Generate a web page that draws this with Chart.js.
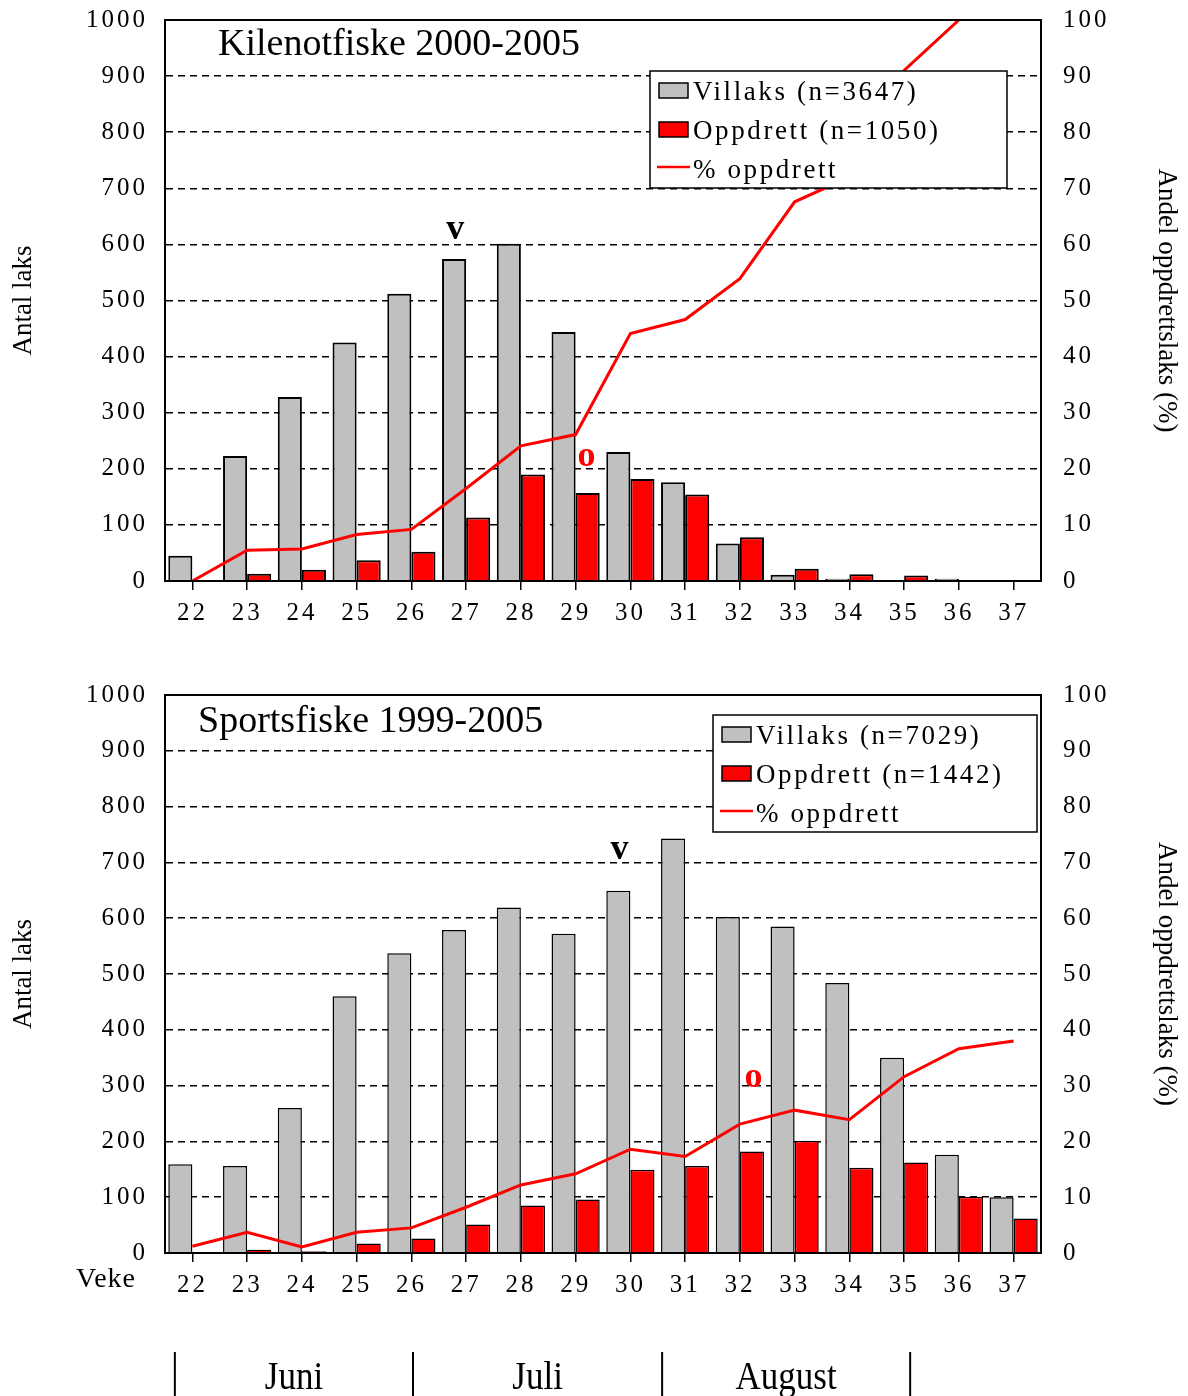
<!DOCTYPE html>
<html>
<head>
<meta charset="utf-8">
<script src="https://cdn.jsdelivr.net/npm/chart.js@4.4.1/dist/chart.umd.min.js"></script>
<style>
  body { margin: 0; background: #fff; width: 1188px; height: 1396px; position: relative; overflow: hidden; }
  .box { position: absolute; left: 0; width: 1188px; }
</style>
</head>
<body>
<div class="box" style="top:0;height:650px"><canvas id="kilenot"></canvas></div>
<div class="box" style="top:650px;height:746px"><canvas id="sport"></canvas></div>
<script>
// uke-nummer langs x-aksen
const weeks = ['22', '23', '24', '25', '26', '27', '28', '29', '30', '31', '32', '33', '34', '35', '36', '37'];

// Kilenotfiske 2000-2005
const kileVillaks = [45, 223, 328, 425, 512, 574, 601, 444, 230, 176, 67, 11, 4, 1, 4, 0];
const kileOppdrett = [0, 13, 20, 37, 52, 113, 190, 157, 182, 154, 78, 22, 12, 10, 0, 0];
const kilePct = [0, 5.5, 5.7, 8.3, 9.2, 16.5, 24.1, 26.1, 44.1, 46.6, 53.9, 67.6, 72, 91, 100, null];

// Sportsfiske 1999-2005
const sportVillaks = [159, 156, 260, 460, 537, 579, 619, 572, 649, 743, 602, 585, 484, 350, 176, 100];
const sportOppdrett = [2, 6, 3, 17, 26, 51, 85, 96, 149, 156, 182, 201, 153, 162, 101, 62];
const sportPct = [1.2, 3.7, 1.1, 3.7, 4.5, 8.2, 12.2, 14.2, 18.6, 17.3, 23.1, 25.6, 23.9, 31.6, 36.6, 38.0];

// markeringer: v = villaks median, o = oppdrett median (uke, antall)
const kileMarks = [{ week: 26.8, value: 626, text: 'v', color: '#000' }, { week: 29.2, value: 221, text: 'o', color: '#f00' }];
const sportMarks = [{ week: 29.8, value: 722, text: 'v', color: '#000' }, { week: 32.25, value: 315, text: 'o', color: '#f00' }];

// månedsgrenser (uke) og navn
const monthEdges = [21.68, 26.03, 30.58, 35.11];
const months = ['Juni', 'Juli', 'August'];

const serif = "'Liberation Serif', 'Times New Roman', serif";
const GREY = '#c0c0c0';
const RED = '#ff0000';

const deco = {
    id: 'deco',
    beforeDraw(chart) {
        chart.ctx.letterSpacing = '3px';
    },
    afterDraw(chart, args, o) {
        const ctx = chart.ctx;
        const a = chart.chartArea;
        const sx = chart.scales.x, sy = chart.scales.y;
        ctx.save();
        ctx.setLineDash([]);
        ctx.strokeStyle = '#000';
        ctx.lineWidth = 2;
        ctx.strokeRect(a.left, a.top, a.right - a.left, a.bottom - a.top);

        ctx.fillStyle = '#000';
        ctx.letterSpacing = '0px';
        ctx.textAlign = 'left';
        ctx.textBaseline = 'middle';
        ctx.font = o.titleSize + 'px ' + serif;
        ctx.fillText(o.title, o.titleX, a.top + o.titleY);

        // aksetitler
        const mid = (a.top + a.bottom) / 2;
        ctx.font = '27px ' + serif;
        ctx.textAlign = 'center';
        ctx.save();
        ctx.translate(24, mid);
        ctx.rotate(-Math.PI / 2);
        ctx.fillText('Antal laks', 0, 0);
        ctx.restore();
        ctx.save();
        ctx.translate(1166, mid);
        ctx.rotate(Math.PI / 2);
        ctx.fillText('Andel oppdrettslaks (%)', 0, 0);
        ctx.restore();

        // tegnforklaring
        const L = o.legend;
        const bx = L.x, by = a.top + L.y;
        ctx.fillStyle = '#fff';
        ctx.fillRect(bx, by, L.w, 117);
        ctx.lineWidth = 1.5;
        ctx.strokeRect(bx, by, L.w, 117);
        const ds = chart.data.datasets;
        const rows = [ds[1], ds[2], ds[0]];
        ctx.font = '27px ' + serif;
        ctx.letterSpacing = '2.6px';
        ctx.textAlign = 'left';
        ctx.textBaseline = 'alphabetic';
        rows.forEach((d, i) => {
            const cy = by + 20 + i * 39;
            if (d.type === 'line') {
                ctx.strokeStyle = d.borderColor;
                ctx.lineWidth = 2.5;
                ctx.beginPath();
                ctx.moveTo(bx + 7, cy - 2);
                ctx.lineTo(bx + 40, cy - 2);
                ctx.stroke();
            } else {
                ctx.fillStyle = d.backgroundColor;
                ctx.fillRect(bx + 9, cy - 8, 29, 15);
                ctx.strokeStyle = '#000';
                ctx.lineWidth = 1.5;
                ctx.strokeRect(bx + 9, cy - 8, 29, 15);
            }
            ctx.fillStyle = '#000';
            ctx.fillText(d.label, bx + 43, cy + 9);
        });

        // v / o
        ctx.letterSpacing = '0px';
        ctx.textAlign = 'center';
        ctx.textBaseline = 'middle';
        ctx.font = 'bold 36px ' + serif;
        o.marks.forEach(m => {
            ctx.fillStyle = m.color;
            ctx.fillText(m.text, sx.getPixelForValue(m.week - 22), sy.getPixelForValue(m.value));
        });

        if (o.months) {
            ctx.fillStyle = '#000';
            ctx.font = '28px ' + serif;
            ctx.letterSpacing = '1px';
            ctx.textAlign = 'right';
            ctx.fillText('Veke', a.left - 29, a.bottom + 27);
            ctx.letterSpacing = '0px';
            const px = monthEdges.map(w => sx.getPixelForValue(w - 22));
            ctx.strokeStyle = '#000';
            ctx.lineWidth = 2;
            px.forEach(x => {
                ctx.beginPath();
                ctx.moveTo(x, a.bottom + 99);
                ctx.lineTo(x, chart.height);
                ctx.stroke();
            });
            ctx.textAlign = 'center';
            ctx.font = '35px ' + serif;
            months.forEach((m, i) => {
                ctx.save();
                ctx.translate((px[i] + px[i + 1]) / 2, a.bottom + 125);
                ctx.scale(1, 1.15);
                ctx.fillText(m, 0, 0);
                ctx.restore();
            });
        }
        ctx.restore();
    }
};

function makeChart(id, villaks, oppdrett, pct, nV, nO, top, xh, bw, extra) {
    return new Chart(document.getElementById(id), {
        type: 'bar',
        data: {
            labels: weeks,
            datasets: [{
                type: 'line',
                label: '% oppdrett',
                data: pct,
                yAxisID: 'y2',
                borderColor: RED,
                borderWidth: 3,
                pointRadius: 0,
                tension: 0,
                order: 0
            }, {
                label: 'Villaks (n=' + nV + ')',
                data: villaks,
                backgroundColor: GREY,
                borderColor: '#000',
                borderWidth: bw,
                categoryPercentage: 0.88,
                barPercentage: 1.0,
                order: 1
            }, {
                label: 'Oppdrett (n=' + nO + ')',
                data: oppdrett,
                backgroundColor: RED,
                borderColor: '#000',
                borderWidth: bw,
                categoryPercentage: 0.88,
                barPercentage: 1.0,
                order: 1
            }]
        },
        options: {
            responsive: true,
            maintainAspectRatio: false,
            animation: false,
            layout: { padding: { top: top, left: 0, right: 0, bottom: 0 } },
            plugins: {
                legend: { display: false },
                tooltip: { enabled: false },
                deco: extra
            },
            scales: {
                x: {
                    grid: { offset: false, drawOnChartArea: false, drawTicks: true, tickLength: 9, color: '#000', lineWidth: 1.5 },
                    border: { color: '#000', width: 2 },
                    ticks: { color: '#000', font: { family: serif, size: 25 }, padding: 8, maxRotation: 0, autoSkip: false },
                    afterFit: s => { s.height = xh; }
                },
                y: {
                    position: 'left',
                    min: 0,
                    max: 1000,
                    ticks: { stepSize: 100, color: '#000', font: { family: serif, size: 25 }, padding: 17, callback: v => String(v) },
                    grid: { drawTicks: false, lineWidth: 1.5, color: c => (c.tick && (c.tick.value === 0 || c.tick.value === 1000)) ? 'rgba(0,0,0,0)' : '#000' },
                    border: { color: '#000', width: 2, dash: [7, 5] },
                    afterFit: s => { s.width = 165; s.paddingTop = 0; s.paddingBottom = 0; }
                },
                y2: {
                    position: 'right',
                    min: 0,
                    max: 100,
                    ticks: { stepSize: 10, color: '#000', font: { family: serif, size: 25 }, padding: 22, callback: v => String(v) },
                    grid: { drawOnChartArea: false, drawTicks: false },
                    border: { color: '#000', width: 2 },
                    afterFit: s => { s.width = 147; s.paddingTop = 0; s.paddingBottom = 0; }
                }
            }
        },
        plugins: [deco]
    });
}

makeChart('kilenot', kileVillaks, kileOppdrett, kilePct, 3647, 1050, 20, 69, 2, {
    title: 'Kilenotfiske 2000-2005', titleX: 218, titleY: 25, titleSize: 38,
    legend: { x: 650, y: 51, w: 357 },
    marks: kileMarks,
    months: false
});

makeChart('sport', sportVillaks, sportOppdrett, sportPct, 7029, 1442, 45, 143, 1.5, {
    title: 'Sportsfiske 1999-2005', titleX: 198, titleY: 27, titleSize: 38,
    legend: { x: 713, y: 20, w: 324 },
    marks: sportMarks,
    months: true
});
</script>
</body>
</html>
